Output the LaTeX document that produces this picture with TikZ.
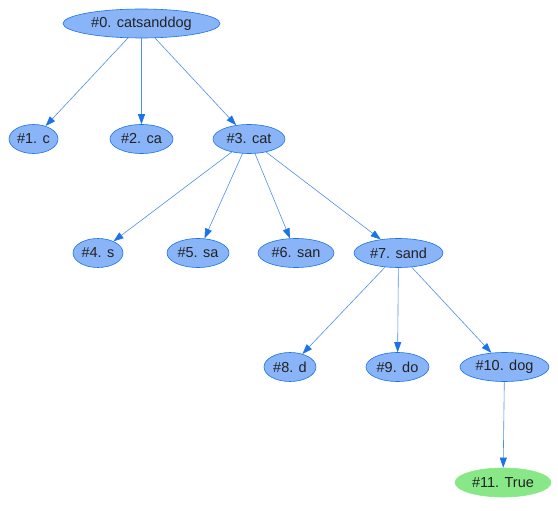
\documentclass[tikz,border=0pt]{standalone}
\usepackage{fontspec}
\setmainfont{Liberation Sans}
\usetikzlibrary{shapes.geometric,arrows.meta}

\definecolor{nodeblue}{RGB}{138,180,248}
\definecolor{lineblue}{RGB}{26,115,232}
\definecolor{edgeblue}{RGB}{80,140,240}
\definecolor{leafgreen}{RGB}{136,232,136}
\definecolor{txtgray}{RGB}{34,34,34}

\begin{document}
\begin{tikzpicture}[
  x=1pt, y=-1pt,
  word/.style={
    ellipse, draw=lineblue, fill=nodeblue, line width=0.6pt,
    minimum height=29pt, inner sep=0pt,
    text=txtgray, font=\fontsize{14.5}{16}\selectfont
  },
  done/.style={word, draw=leafgreen, fill=leafgreen},
  arr/.style={draw=edgeblue, line width=0.6pt,
    -{Triangle[length=10pt, width=7pt, color=lineblue]}}
]
\useasboundingbox (0,0) rectangle (558,511);

%% ── Root ─────────────────────────────────────────────────────
\node[word, minimum width=157pt] (n0) at (141.5, 23.5) {\#0. catsanddog};

%% ── First prefixes ───────────────────────────────────────────
\node[word, minimum width=49pt] (n1) at ( 33.5, 139) {\#1. c};
\node[word, minimum width=63pt] (n2) at (141.5, 139) {\#2. ca};
\node[word, minimum width=72pt] (n3) at (249.0, 139) {\#3. cat};

\draw[arr] (n0) -- (n1);
\draw[arr] (n0) -- (n2);
\draw[arr] (n0) -- (n3);

%% ── After "cat" ──────────────────────────────────────────────
\node[word, minimum width=50pt] (n4) at ( 98.0, 253) {\#4. s};
\node[word, minimum width=62pt] (n5) at (198.0, 253) {\#5. sa};
\node[word, minimum width=76pt] (n6) at (296.0, 253) {\#6. san};
\node[word, minimum width=89pt] (n7) at (398.5, 253) {\#7. sand};

\draw[arr] (n3) -- (n4);
\draw[arr] (n3) -- (n5);
\draw[arr] (n3) -- (n6);
\draw[arr] (n3) -- (n7);

%% ── After "sand" ─────────────────────────────────────────────
\node[word, minimum width=52pt] (n8)  at (290.0, 367) {\#8. d};
\node[word, minimum width=63pt] (n9)  at (397.5, 367) {\#9. do};
\node[word, minimum width=89pt] (n10) at (504.5, 367) {\#10. dog};

\draw[arr] (n7) -- (n8);
\draw[arr] (n7) -- (n9);
\draw[arr] (n7) -- (n10);

%% ── Result ───────────────────────────────────────────────────
\node[done, minimum width=96pt] (n11) at (503.0, 482.5) {\#11. True};

\draw[arr] (n10) -- (n11);

\end{tikzpicture}
\end{document}
